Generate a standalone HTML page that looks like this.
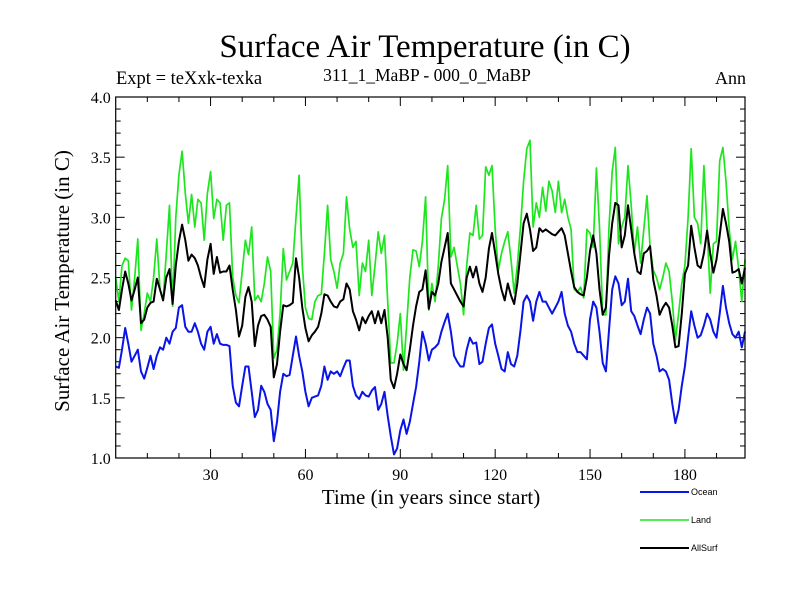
<!DOCTYPE html>
<html><head><meta charset="utf-8"><style>
body{margin:0;background:#fff;}
svg{display:block;font-family:"Liberation Serif",serif;}
</style></head><body>
<svg id="chart" width="800" height="600" xmlns="http://www.w3.org/2000/svg">
<rect width="800" height="600" fill="#fff"/>
<text x="425" y="57" font-size="33" text-anchor="middle">Surface Air Temperature (in C)</text>
<text x="116" y="84" font-size="18.5">Expt = teXxk-texka</text>
<text x="427" y="81" font-size="17.5" text-anchor="middle">311_1_MaBP - 000_0_MaBP</text>
<text x="746" y="84" font-size="18" text-anchor="end">Ann</text>
<text transform="translate(69,281) rotate(-90)" font-size="21" text-anchor="middle">Surface Air Temperature (in C)</text>
<text x="431" y="504" font-size="21" text-anchor="middle">Time (in years since start)</text>
<g id="axes"></g>
<g id="series"></g>
<g id="legend" font-family="Liberation Sans, sans-serif" font-size="9"></g>
<rect x="115.7" y="97" width="629.3" height="361" fill="none" stroke="#000" stroke-width="1.2"/>
</svg>
<script>
const xTicks=[30,60,90,120,150,180];
const yTicks=[1.0,1.5,2.0,2.5,3.0,3.5,4.0];
const seriesNames=["Ocean","Land","AllSurf"];
const ocean=[1.76,1.75,1.9,2.08,1.95,1.8,1.85,1.9,1.72,1.66,1.75,1.85,1.74,1.85,1.92,1.9,2.0,1.95,2.05,2.08,2.25,2.27,2.09,2.05,2.05,2.12,2.05,1.95,1.9,2.05,2.09,1.95,2.03,1.95,1.94,1.94,1.93,1.6,1.46,1.43,1.6,1.76,1.76,1.55,1.34,1.4,1.6,1.55,1.45,1.4,1.14,1.3,1.55,1.7,1.68,1.69,1.85,2.01,1.85,1.72,1.55,1.43,1.5,1.51,1.52,1.6,1.76,1.65,1.72,1.7,1.72,1.68,1.75,1.81,1.81,1.6,1.52,1.49,1.55,1.52,1.51,1.56,1.59,1.4,1.45,1.55,1.35,1.18,1.03,1.08,1.23,1.32,1.2,1.3,1.45,1.59,1.8,2.05,1.95,1.81,1.9,1.92,1.95,2.05,2.13,2.2,2.05,1.85,1.8,1.76,1.76,1.9,2.0,1.95,1.96,1.78,1.8,1.95,2.08,2.11,1.95,1.85,1.74,1.72,1.88,1.78,1.76,1.85,2.06,2.3,2.35,2.3,2.14,2.3,2.38,2.3,2.3,2.25,2.2,2.25,2.3,2.38,2.2,2.1,2.05,1.95,1.88,1.88,1.85,1.82,2.15,2.3,2.25,2.05,1.79,1.72,2.06,2.4,2.51,2.45,2.27,2.3,2.49,2.22,2.18,2.1,2.03,2.15,2.25,2.2,1.95,1.85,1.72,1.74,1.72,1.65,1.45,1.29,1.4,1.6,1.76,2.0,2.22,2.1,2.0,2.02,2.1,2.2,2.15,2.05,2.0,2.2,2.43,2.25,2.12,2.03,2.0,2.05,1.92,2.05];
const land=[2.5,2.3,2.6,2.66,2.64,2.23,2.5,2.82,2.06,2.2,2.37,2.3,2.5,2.82,2.4,2.31,2.7,3.1,2.26,3.0,3.35,3.55,3.2,2.95,3.19,2.92,3.15,3.12,2.81,3.2,3.38,2.99,3.15,3.12,2.81,3.1,3.12,2.5,2.35,2.29,2.55,2.81,2.69,2.92,2.31,2.35,2.3,2.45,2.67,2.55,1.83,1.9,2.2,2.74,2.48,2.55,2.62,3.0,3.35,2.6,2.25,2.16,2.15,2.3,2.35,2.36,2.7,3.1,2.65,2.55,2.41,2.62,2.7,3.17,2.9,2.75,2.8,2.35,2.62,2.55,2.81,2.35,2.6,2.88,2.7,2.85,2.3,1.79,1.79,1.95,2.2,1.73,2.1,2.5,2.73,2.72,2.59,2.8,3.17,2.23,2.45,2.3,2.6,2.99,3.15,3.43,2.67,2.75,2.6,2.45,2.19,2.6,2.87,2.85,3.1,2.82,2.85,3.42,3.35,3.43,2.9,2.56,2.7,2.8,2.88,2.65,2.37,2.6,2.92,3.3,3.57,3.64,2.92,3.12,3.0,3.25,3.05,3.3,3.22,3.04,3.3,3.04,3.15,3.0,2.9,2.4,2.38,2.42,2.33,2.9,2.87,2.75,3.41,2.92,2.19,2.19,2.92,3.38,3.58,2.78,2.92,3.0,3.43,3.1,2.7,2.92,2.62,2.9,3.18,2.75,2.56,2.5,2.4,2.5,2.62,2.55,2.3,1.98,2.2,2.45,2.6,3.0,3.57,3.0,2.95,2.78,3.43,2.9,2.37,2.78,2.8,3.47,3.58,3.3,2.9,2.65,2.8,2.57,2.3,2.65];
const allSurf=[2.31,2.23,2.4,2.55,2.45,2.31,2.4,2.5,2.12,2.15,2.25,2.29,2.3,2.49,2.4,2.31,2.5,2.57,2.28,2.6,2.8,2.94,2.81,2.64,2.69,2.66,2.6,2.5,2.42,2.65,2.78,2.53,2.67,2.54,2.55,2.55,2.6,2.4,2.23,2.01,2.1,2.34,2.42,2.3,1.93,2.1,2.18,2.19,2.15,2.09,1.67,1.78,2.05,2.27,2.26,2.27,2.29,2.66,2.5,2.25,2.08,1.97,2.02,2.05,2.09,2.2,2.36,2.35,2.3,2.26,2.25,2.3,2.32,2.45,2.4,2.22,2.15,2.06,2.17,2.12,2.18,2.22,2.12,2.22,2.12,2.23,2.0,1.65,1.58,1.7,1.86,1.78,1.73,1.9,2.1,2.26,2.38,2.4,2.56,2.24,2.38,2.35,2.45,2.63,2.75,2.87,2.45,2.4,2.35,2.3,2.26,2.5,2.59,2.5,2.59,2.45,2.38,2.5,2.74,2.87,2.7,2.53,2.4,2.31,2.45,2.35,2.28,2.45,2.7,2.95,3.03,2.9,2.72,2.75,2.91,2.88,2.9,2.88,2.86,2.85,2.88,2.91,2.85,2.7,2.55,2.42,2.38,2.36,2.35,2.5,2.72,2.85,2.7,2.4,2.19,2.25,2.68,2.95,3.12,3.1,2.75,2.85,3.1,2.9,2.7,2.55,2.53,2.7,2.72,2.76,2.48,2.35,2.19,2.25,2.29,2.25,2.1,1.92,1.93,2.2,2.53,2.6,2.93,2.75,2.6,2.58,2.7,2.89,2.7,2.54,2.65,2.85,3.07,2.95,2.8,2.54,2.55,2.57,2.45,2.58];

const NS="http://www.w3.org/2000/svg";
const X0=115.7,X1=745,Y0=458,Y1=97;
const xMin=0,xMax=199,yMin=1,yMax=4;
function xs(v){return X0+(v-xMin)/(xMax-xMin)*(X1-X0);}
function ys(v){return Y0-(v-yMin)/(yMax-yMin)*(Y0-Y1);}
function mk(tag,attrs,parent){const e=document.createElementNS(NS,tag);for(const k in attrs)e.setAttribute(k,attrs[k]);parent.appendChild(e);return e;}
const axes=document.getElementById('axes');
for(let v=10;v<xMax;v+=10){
  const major=xTicks.includes(v);const L=major?9:5;
  const t=mk('line',{x1:xs(v),x2:xs(v),y1:Y0,y2:Y0-L,stroke:'#000','stroke-width':1},axes);
  
  
  const t2=mk('line',{x1:xs(v),x2:xs(v),y1:Y1,y2:Y1+L,stroke:'#000','stroke-width':1},axes);
  
  
}
xTicks.forEach(v=>{
  const l=mk('text',{x:xs(v),y:Y0+22,'font-size':16,'text-anchor':'middle'},axes);l.textContent=v;
  
  
});
for(let i=0;i<=30;i++){
  const v=1+i*0.1;const major=(i%5===0);const L=major?9:5;
  const t=mk('line',{x1:X0,x2:X0+L,y1:ys(v),y2:ys(v),stroke:'#000','stroke-width':1},axes);
  
  
  const t2=mk('line',{x1:X1,x2:X1-L,y1:ys(v),y2:ys(v),stroke:'#000','stroke-width':1},axes);
  
  
}
yTicks.forEach(v=>{
  const l=mk('text',{x:X0-5,y:ys(v)+6,'font-size':16,'text-anchor':'end'},axes);l.textContent=v.toFixed(1);
  
  
});
const sg=document.getElementById('series');
const colors=["#0a14e6","#1ee61e","#000000"];
[ocean,land,allSurf].forEach((arr,si)=>{
  const pts=arr.map((v,i)=>xs(i).toFixed(1)+','+ys(v).toFixed(1)).join(' ');
  const p=mk('polyline',{points:pts,fill:'none',stroke:colors[si],'stroke-width':si===1?1.7:2,'stroke-linejoin':'round'},sg);
  
  
});
const lg=document.getElementById('legend');
const legY=[492,520,548];
seriesNames.forEach((n,i)=>{
  const g=mk('g',{},lg);
  
  
  mk('line',{x1:640,x2:689,y1:legY[i],y2:legY[i],stroke:colors[i],'stroke-width':i===1?1.5:2},g);
  const t=mk('text',{x:691,y:legY[i]+3},g);t.textContent=n;
});
</script>
</body></html>
